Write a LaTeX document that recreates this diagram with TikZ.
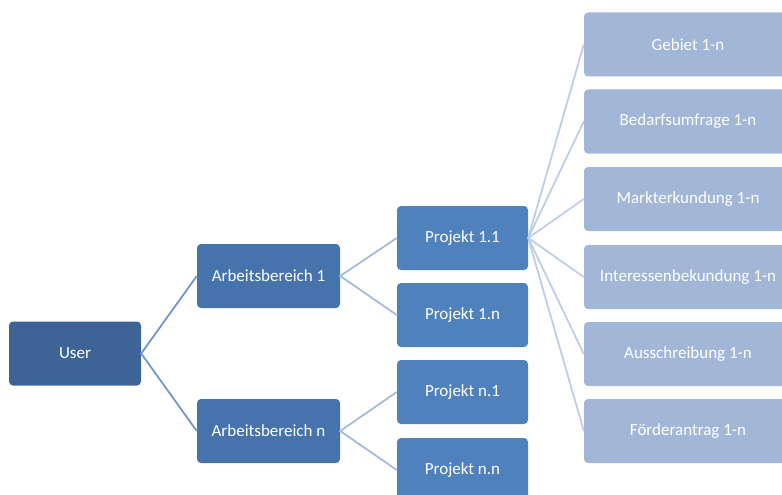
\documentclass[tikz,border=0pt]{standalone}
\usepackage{fontspec}
\setmainfont{Carlito}
\definecolor{cUser}{HTML}{3E6497}
\definecolor{cArb}{HTML}{4673AB}
\definecolor{cProj}{HTML}{4F81BD}
\definecolor{cLeaf}{HTML}{A2B6D7}
\definecolor{lUser}{HTML}{7396CA}
\definecolor{lArb}{HTML}{A6BADC}
\definecolor{lProj}{HTML}{BFCDE6}
\tikzset{
  box/.style={rounded corners=4pt, minimum height=64pt, text=white, font=\fontsize{17}{20}\selectfont, inner sep=0pt},
  ubox/.style={box, fill=cUser, minimum width=132pt},
  abox/.style={box, fill=cArb, minimum width=143pt},
  pbox/.style={box, fill=cProj, minimum width=131pt},
  lbox/.style={box, fill=cLeaf, minimum width=208pt},
  conn/.style={line width=1.8pt},
}
\begin{document}
\begin{tikzpicture}[x=1pt,y=-1pt]
\useasboundingbox (0,0) rectangle (782,495);
\clip (0,0) rectangle (782,495);
\node[ubox] (user) at (75,353.5) {User};
\node[abox] (ab1) at (268.5,276) {Arbeitsbereich 1};
\node[abox] (abn) at (268.5,431) {Arbeitsbereich n};
\node[pbox] (p11) at (462.5,238) {Projekt 1.1};
\node[pbox] (p1n) at (462.5,315) {Projekt 1.n};
\node[pbox] (pn1) at (462.5,392) {Projekt n.1};
\node[pbox] (pnn) at (462.5,470) {Projekt n.n};
\node[lbox] (l1) at (688,44.5) {Gebiet 1-n};
\node[lbox] (l2) at (688,121.5) {Bedarfsumfrage 1-n};
\node[lbox] (l3) at (688,199) {Markterkundung 1-n};
\node[lbox] (l4) at (688,277) {Interessenbekundung 1-n};
\node[lbox] (l5) at (688,354) {Ausschreibung 1-n};
\node[lbox] (l6) at (688,431) {Förderantrag 1-n};
\draw[conn, lUser] (ab1.west) -- (user.east) -- (abn.west);
\draw[conn, lArb] (p11.west) -- (ab1.east) -- (p1n.west);
\draw[conn, lArb] (pn1.west) -- (abn.east) -- (pnn.west);
\foreach \l in {l1,l2,l3,l4,l5,l6}{
  \draw[conn, lProj] (p11.east) -- (\l.west);
}
\end{tikzpicture}
\end{document}
